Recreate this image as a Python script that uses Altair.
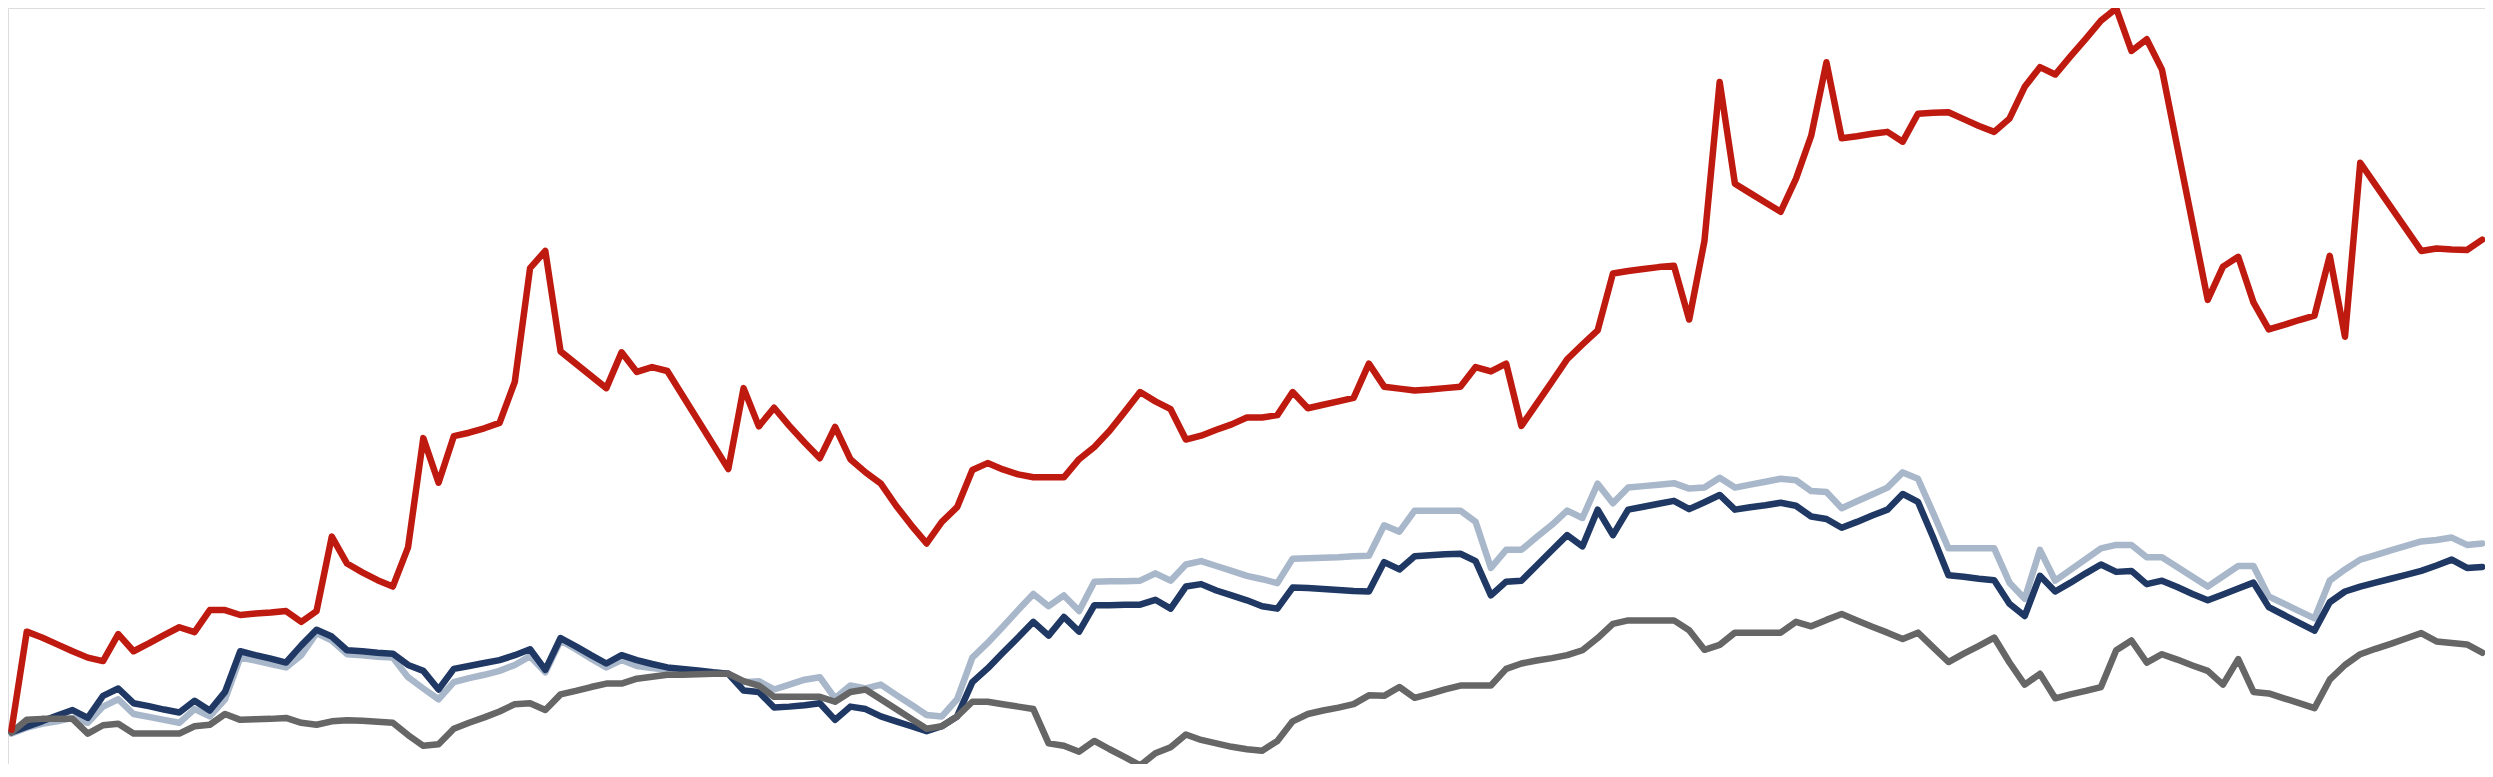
import altair as alt
import pandas as pd

# period index (regular time steps)
periods = list(range(163))

red = [11.8, 31.8, 30.6, 29.2, 27.8, 26.5, 25.8, 31.3, 27.8, 29.4,
       31.1, 32.7, 31.7, 36.2, 36.2, 35.2, 35.5, 35.7, 36.0, 33.8,
       36.0, 51.2, 45.7, 43.9, 42.3, 41.0, 49.0, 71.3, 62.2, 71.7,
       72.4, 73.3, 74.4, 82.8, 106.0, 109.5, 89.0, 86.5, 84.0, 81.5,
       88.8, 84.8, 85.8, 85.0, 80.0, 75.0, 70.0, 65.0, 81.5, 73.7,
       77.5, 73.8, 70.4, 67.2, 73.6, 67.0, 64.3, 62.0, 57.5, 53.5,
       49.8, 54.2, 57.2, 64.8, 66.2, 64.9, 63.9, 63.3, 63.3, 63.3,
       67.0, 69.5, 72.8, 76.7, 80.7, 78.8, 77.2, 71.0, 71.8, 73.0,
       74.1, 75.5, 75.5, 76.0, 80.7, 77.4, 78.1, 78.8, 79.5, 86.5,
       81.8, 81.4, 81.0, 81.2, 81.5, 81.8, 85.8, 84.9, 86.5, 73.8,
       78.3, 82.8, 87.4, 90.4, 93.3, 104.9, 105.4, 105.8, 106.2, 106.5,
       95.5, 111.5, 144.0, 123.2, 121.3, 119.4, 117.5, 124.2, 133.0, 148.0,
       132.5, 132.9, 133.4, 133.8, 131.8, 137.5, 137.7, 137.8, 136.4, 135.0,
       133.8, 136.5, 143.0, 147.0, 145.5, 149.2, 152.8, 156.5, 159.0, 150.3,
       152.7, 146.5, 130.8, 115.2, 99.5, 106.3, 108.3, 99.0, 93.5, 94.4,
       95.4, 96.3, 108.5, 92.0, 127.5, 123.0, 118.5, 114.0, 109.5, 110.0,
       109.8, 109.7, 111.8]

navy = [11.3, 12.4, 13.5, 14.7, 15.8, 14.2, 18.7, 20.2, 17.2, 16.6,
        15.9, 15.3, 17.7, 15.7, 19.5, 27.8, 27.0, 26.3, 25.5, 29.0,
        32.2, 30.8, 28.0, 27.8, 27.5, 27.3, 25.0, 23.8, 20.0, 24.2,
        24.8, 25.4, 26.0, 27.0, 28.2, 24.0, 30.5, 28.8, 27.0, 25.3,
        27.0, 26.0, 25.2, 24.5, 24.2, 23.9, 23.5, 23.2, 19.8, 19.5,
        16.3, 16.5, 16.8, 17.2, 13.8, 16.5, 16.0, 14.5, 13.5, 12.5,
        11.5, 12.5, 14.5, 21.5, 24.3, 27.5, 30.6, 33.8, 31.0, 34.8,
        31.8, 37.2, 37.2, 37.3, 37.3, 38.3, 36.5, 41.0, 41.5, 40.2,
        39.2, 38.2, 37.0, 36.5, 40.8, 40.7, 40.5, 40.3, 40.1, 40.0,
        46.0, 44.5, 47.2, 47.4, 47.6, 47.7, 46.2, 39.2, 42.0, 42.2,
        45.3, 48.4, 51.5, 49.2, 56.7, 51.5, 56.7, 57.3, 57.9, 58.5,
        56.8, 58.2, 59.7, 56.7, 57.2, 57.6, 58.1, 57.5, 55.3, 54.8,
        53.0, 54.2, 55.5, 56.7, 59.9, 58.3, 51.0, 43.3, 43.0, 42.6,
        42.3, 37.5, 35.0, 43.2, 40.0, 41.8, 43.7, 45.5, 44.0, 44.2,
        41.5, 42.2, 40.9, 39.5, 38.2, 39.4, 40.6, 41.8, 36.8, 35.2,
        33.6, 32.0, 37.8, 40.0, 41.0, 41.8, 42.6, 43.4, 44.2, 45.3,
        46.5, 44.8, 45.0]

lightblue = [11.0, 12.2, 13.0, 13.5, 14.2, 13.2, 16.5, 18.0, 15.0, 14.4,
             13.8, 13.2, 16.0, 14.5, 18.0, 26.5, 25.9, 25.2, 24.5, 27.0,
             31.5, 30.0, 27.2, 27.0, 26.7, 26.5, 22.5, 20.2, 18.0, 21.5,
             22.3, 23.0, 23.8, 25.0, 26.8, 23.5, 30.0, 28.2, 26.3, 24.5,
             26.0, 24.8, 24.4, 24.0, 23.8, 23.6, 23.4, 23.2, 21.5, 21.7,
             20.0, 21.0, 22.0, 22.5, 18.2, 20.8, 20.2, 21.0, 18.9, 16.9,
             14.8, 14.5, 18.0, 26.5, 29.5, 32.8, 36.2, 39.5, 37.0, 39.2,
             36.0, 42.0, 42.1, 42.1, 42.2, 43.7, 42.2, 45.5, 46.2, 45.2,
             44.2, 43.2, 42.5, 41.7, 46.7, 46.8, 46.9, 47.0, 47.2, 47.3,
             53.5, 52.2, 56.5, 56.5, 56.5, 56.5, 54.2, 44.8, 48.5, 48.5,
             51.1, 53.6, 56.5, 55.0, 62.0, 58.0, 61.2, 61.5, 61.8, 62.1,
             61.0, 61.2, 63.2, 61.2, 61.8, 62.4, 63.0, 62.7, 60.5, 60.3,
             57.0, 58.4, 59.8, 61.2, 64.3, 63.0, 56.0, 48.8, 48.8, 48.8,
             48.8, 41.8, 38.5, 48.5, 42.2, 44.4, 46.6, 48.8, 49.5, 49.5,
             47.0, 47.0, 45.0, 43.0, 41.0, 43.1, 45.2, 45.2, 39.0, 37.5,
             36.0, 34.5, 42.2, 44.5, 46.5, 47.4, 48.4, 49.3, 50.2, 50.5,
             51.0, 49.5, 49.8]

gray = [11.2, 13.8, 14.0, 14.0, 14.0, 11.0, 12.7, 13.0, 11.0, 11.0,
        11.0, 11.0, 12.5, 12.8, 15.0, 13.8, 13.9, 14.0, 14.2, 13.2,
        12.8, 13.5, 13.7, 13.6, 13.4, 13.2, 10.7, 8.5, 8.8, 12.0,
        13.2, 14.3, 15.5, 17.0, 17.2, 15.8, 19.0, 19.7, 20.5, 21.2,
        21.2, 22.2, 22.6, 23.0, 23.0, 23.1, 23.2, 23.2, 21.7, 20.8,
        18.5, 18.5, 18.5, 18.5, 17.5, 19.5, 20.0, 18.0, 16.0, 14.0,
        12.0, 12.5, 14.5, 17.5, 17.5, 17.0, 16.5, 16.0, 9.0, 8.5,
        7.3, 9.5, 7.8, 6.2, 4.5, 7.0, 8.2, 10.8, 9.7, 9.0,
        8.3, 7.8, 7.5, 9.5, 13.5, 15.0, 15.7, 16.3, 17.0, 18.8,
        18.7, 20.5, 18.3, 19.1, 20.0, 20.8, 20.8, 20.8, 24.2, 25.3,
        25.9, 26.4, 27.0, 28.0, 30.5, 33.4, 34.1, 34.1, 34.1, 34.1,
        32.1, 28.1, 29.1, 31.6, 31.6, 31.6, 31.6, 33.8, 32.9, 34.2,
        35.4, 34.1, 32.8, 31.6, 30.3, 31.6, 28.6, 25.6, 27.3, 28.9,
        30.6, 25.5, 21.0, 23.2, 18.2, 19.0, 19.7, 20.5, 28.0, 30.0,
        25.5, 27.2, 26.1, 24.9, 23.8, 21.0, 26.2, 19.5, 19.2, 18.2,
        17.2, 16.2, 22.0, 25.0, 27.2, 28.3, 29.3, 30.4, 31.5, 29.8,
        29.5, 29.2, 27.5]

series_names = ["Light blue", "Navy", "Gray", "Red"]
series_values = [lightblue, navy, gray, red]
series_colors = ["#a9b7cb", "#1f3864", "#666666", "#bf1a10"]

frames = []
for name, vals in zip(series_names, series_values):
    frames.append(pd.DataFrame({"t": periods, "v": vals, "series": name}))
df = pd.concat(frames, ignore_index=True)

xscale = alt.Scale(domain=[-0.23, 162.18], nice=False, zero=False)
yscale = alt.Scale(domain=[4.79, 159.08], nice=False, zero=False)

layers = []
for name, color in zip(series_names, series_colors):
    layers.append(
        alt.Chart(df)
        .transform_filter(alt.datum.series == name)
        .mark_line(color=color, strokeWidth=6.5, strokeCap="round", strokeJoin="round")
        .encode(
            x=alt.X("t:Q", scale=xscale, axis=None),
            y=alt.Y("v:Q", scale=yscale, axis=None),
        )
    )

chart = (
    alt.layer(*layers)
    .properties(width=2477, height=756, padding=0, autosize=alt.AutoSizeParams(type="none"))
    .configure_view(strokeWidth=0, stroke="transparent")
    .configure(background="white")
)

chart.save("out.html", embed_options={"renderer": "svg", "actions": False})
